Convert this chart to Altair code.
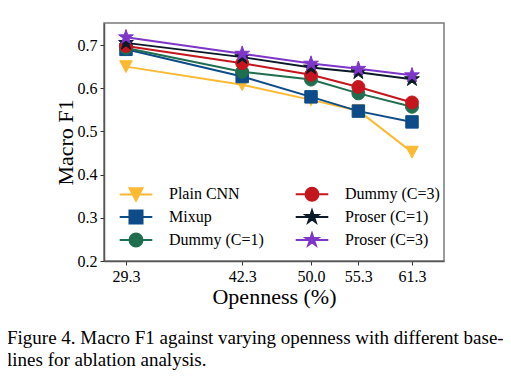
import altair as alt
import pandas as pd

openness = [29.3, 42.3, 50.0, 55.3, 61.3]
series_names = ["Plain CNN", "Mixup", "Dummy (C=1)", "Dummy (C=3)", "Proser (C=1)", "Proser (C=3)"]
plain_cnn = [0.650, 0.608, 0.573, 0.548, 0.452]
mixup = [0.690, 0.627, 0.580, 0.547, 0.522]
dummy_c1 = [0.693, 0.638, 0.620, 0.588, 0.557]
dummy_c3 = [0.698, 0.658, 0.631, 0.603, 0.567]
proser_c1 = [0.705, 0.672, 0.648, 0.637, 0.621]
proser_c3 = [0.718, 0.680, 0.657, 0.645, 0.630]
values = [plain_cnn, mixup, dummy_c1, dummy_c3, proser_c1, proser_c3]
colors = ["#FBBA32", "#0D4C89", "#1F6E4F", "#C4161C", "#0B1A26", "#7D36C8"]

STAR = "M0,-1L0.2245,-0.309L0.951,-0.309L0.363,0.118L0.588,0.809L0,0.382L-0.588,0.809L-0.363,0.118L-0.951,-0.309L-0.2245,-0.309Z"
TRI = "M-1,-0.95L1,-0.95L0,0.95Z"
SQ = "M-1,-1H1V1H-1Z"
CIRC = "M1,0A1,1 0 1,1 -1,0A1,1 0 1,1 1,0Z"
shapes = [TRI, SQ, CIRC, CIRC, STAR, STAR]
sizes = [155, 155, 165, 165, 240, 240]
LINE = "M-2.5,0H2.5"

rows = []
for name, vals in zip(series_names, values):
    for o, v in zip(openness, vals):
        rows.append({"series": name, "openness": o, "f1": v})
df = pd.DataFrame(rows)

FONT = "Liberation Serif"
xenc = alt.X("openness:Q", scale=alt.Scale(domain=[26.84, 64.88], nice=False, zero=False),
             axis=alt.Axis(values=openness, format=".1f", title="Openness (%)", grid=False))
yenc = alt.Y("f1:Q", scale=alt.Scale(domain=[0.2, 0.751], nice=False, zero=False),
             axis=alt.Axis(values=[0.2, 0.3, 0.4, 0.5, 0.6, 0.7], format=".1f", title="Macro F1", grid=False))

layers = []
for name, col, shp, sz in zip(series_names, colors, shapes, sizes):
    base = alt.Chart(df).transform_filter(alt.datum.series == name)
    layers.append(base.mark_line(color=col, strokeWidth=2).encode(x=xenc, y=yenc))
    layers.append(base.mark_point(filled=True, color=col, shape=shp, size=sz, opacity=1,
                                  stroke=col, strokeWidth=1).encode(x=xenc, y=yenc))

legend_order = series_names
cmap = dict(zip(series_names, colors))
smap = dict(zip(series_names, shapes))
leg_colors = [cmap[n] for n in legend_order]
leg_shapes = [LINE + smap[n] for n in legend_order]

legend = alt.Legend(title=None, orient="none", legendX=24, legendY=163, columns=2,
                    labelFont=FONT, labelFontSize=16, symbolSize=170, symbolStrokeWidth=2,
                    symbolOpacity=1, labelOffset=25, columnPadding=27, rowPadding=1, padding=0,
                    labelColor="black")
leg_layer = alt.Chart(df).mark_point(filled=True, size=0, opacity=1, fillOpacity=1, strokeOpacity=1).encode(
    x=xenc, y=yenc,
    color=alt.Color("series:N", scale=alt.Scale(domain=legend_order, range=leg_colors), legend=legend, sort=legend_order),
    stroke=alt.Stroke("series:N", scale=alt.Scale(domain=legend_order, range=leg_colors), sort=legend_order),
    shape=alt.Shape("series:N", scale=alt.Scale(domain=legend_order, range=leg_shapes), sort=legend_order),
)
layers.append(leg_layer)

chart = alt.layer(*layers).properties(
    width=340, height=238,
    padding={"left": 96, "top": 15, "right": 59, "bottom": 112},
    autosize=alt.AutoSizeParams(type="none"),
    title=alt.TitleParams(
        text=["Figure 4. Macro F1 against varying openness with different base-",
              "lines for ablation analysis."],
        orient="bottom", anchor="start", frame="group", dx=-97, offset=22,
        font=FONT, fontSize=19, fontWeight="normal", lineHeight=22, color="black"),
).configure_view(
    stroke="#7a7a7a", strokeWidth=1.5
).configure_axis(
    labelFont=FONT, labelFontSize=16, labelColor="black",
    titleFont=FONT, titleFontSize=22, titleFontWeight="normal", titleColor="black",
    domainColor="#555555", domainWidth=1.5, tickColor="#333333", tickSize=4, tickWidth=1,
    labelPadding=3,
).configure_axisX(titlePadding=2).configure_axisY(titlePadding=0)

chart.save("out.html", embed_options={"renderer": "svg", "actions": False})
